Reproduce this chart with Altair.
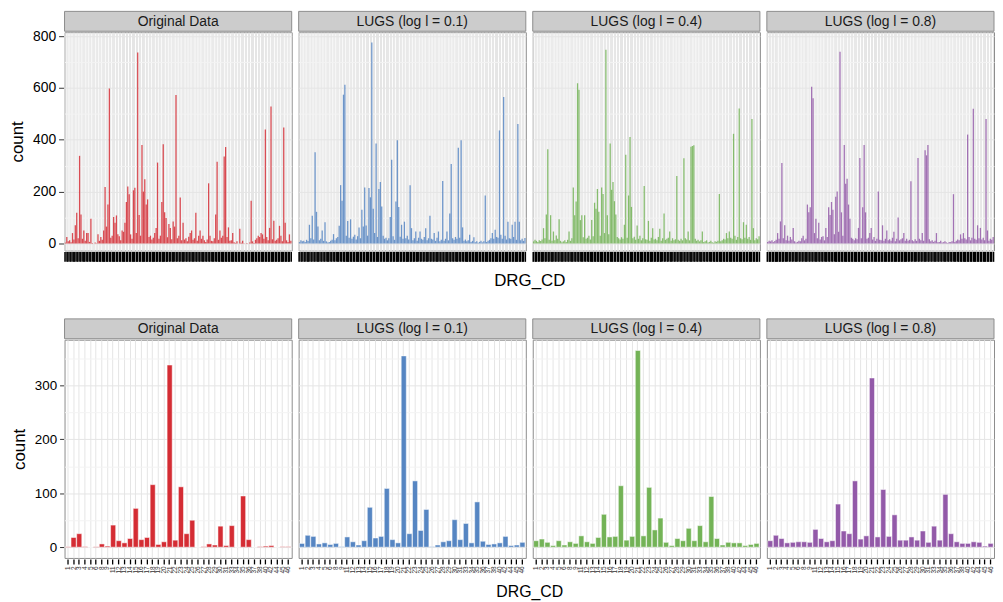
import altair as alt
import pandas as pd

PANELS = ["Original Data", "LUGS (log l = 0.1)", "LUGS (log l = 0.4)", "LUGS (log l = 0.8)"]
COLORS = ["#D3222A", "#4E80C0", "#6DB04F", "#8E52A5"]

# ---- top row: fine-grained DRG codes (160 categories per panel) ----
TOP_ORIG = [
    3, 25, 8, 12, 5, 40, 15, 70, 118, 20, 338, 112, 18, 50, 10, 40, 40, 6, 95, 2,
    0, 4, 1, 35, 10, 25, 14, 50, 218, 65, 150, 598, 22, 30, 102, 80, 108, 35, 28, 12,
    50, 45, 80, 160, 220, 190, 35, 18, 205, 215, 40, 737, 110, 30, 380, 200, 248, 150, 170, 25,
    30, 15, 22, 40, 60, 312, 18, 30, 160, 383, 120, 98, 24, 75, 60, 16, 85, 65, 573, 20,
    30, 177, 12, 80, 15, 20, 8, 26, 40, 50, 14, 20, 118, 10, 30, 50, 18, 30, 12, 6,
    15, 232, 30, 10, 8, 20, 112, 315, 14, 50, 22, 30, 335, 372, 25, 62, 10, 12, 40, 5,
    2, 8, 0, 57, 3, 10, 1, 0, 2, 0, 4, 165, 8, 2, 14, 20, 30, 25, 40, 35,
    18, 440, 25, 12, 60, 528, 16, 88, 10, 14, 20, 68, 30, 8, 447, 80, 12, 6, 35, 10,
]
TOP_L01 = [
    5, 12, 8, 10, 6, 14, 9, 72, 20, 107, 15, 352, 122, 65, 12, 18, 50, 10, 82, 8,
    4, 6, 10, 14, 36, 12, 20, 25, 68, 225, 165, 574, 612, 30, 87, 22, 93, 18, 26, 34,
    15, 28, 62, 20, 130, 65, 216, 69, 30, 214, 178, 775, 134, 40, 386, 25, 210, 237, 143, 30,
    18, 22, 12, 20, 102, 323, 28, 14, 162, 398, 141, 26, 72, 18, 84, 20, 30, 15, 225, 59,
    12, 20, 46, 10, 22, 46, 18, 14, 25, 59, 12, 20, 107, 18, 15, 40, 10, 22, 46, 8,
    14, 241, 10, 18, 46, 12, 116, 307, 20, 14, 25, 18, 369, 22, 398, 62, 10, 15, 8, 12,
    34, 6, 10, 24, 5, 8, 3, 6, 10, 4, 8, 185, 6, 10, 14, 20, 40, 18, 53, 25,
    22, 436, 34, 18, 565, 30, 15, 84, 20, 18, 72, 25, 84, 14, 461, 84, 12, 18, 10, 21,
]
TOP_L04 = [
    8, 14, 10, 6, 12, 9, 15, 59, 20, 112, 363, 14, 109, 10, 46, 12, 31, 18, 93, 10,
    5, 8, 12, 6, 14, 46, 10, 20, 216, 109, 162, 618, 593, 90, 109, 24, 109, 18, 22, 30,
    15, 90, 28, 157, 134, 210, 122, 30, 216, 191, 40, 747, 109, 35, 386, 207, 237, 163, 112, 25,
    20, 15, 24, 18, 72, 342, 22, 185, 411, 141, 20, 26, 14, 69, 18, 30, 12, 20, 222, 16,
    14, 87, 10, 22, 59, 15, 18, 12, 25, 57, 10, 20, 116, 14, 18, 22, 46, 10, 20, 12,
    16, 260, 14, 10, 18, 12, 329, 20, 15, 46, 12, 373, 376, 379, 18, 10, 14, 8, 12, 46,
    6, 8, 12, 4, 6, 10, 5, 3, 8, 6, 10, 191, 8, 12, 18, 15, 40, 20, 46, 22,
    18, 423, 30, 14, 25, 521, 20, 16, 82, 22, 72, 18, 25, 14, 480, 59, 12, 20, 16, 28,
]
TOP_L08 = [
    6, 10, 8, 12, 5, 9, 14, 40, 18, 85, 310, 20, 70, 12, 30, 10, 25, 15, 60, 8,
    4, 6, 10, 8, 20, 30, 12, 18, 150, 120, 140, 605, 560, 40, 95, 20, 80, 15, 25, 28,
    12, 60, 25, 140, 110, 160, 130, 35, 180, 200, 45, 740, 120, 30, 380, 230, 250, 150, 95, 22,
    18, 12, 20, 16, 60, 330, 20, 140, 380, 120, 18, 22, 40, 60, 15, 25, 10, 18, 200, 14,
    12, 70, 10, 18, 50, 12, 16, 10, 22, 45, 8, 18, 100, 12, 16, 20, 40, 10, 18, 10,
    14, 240, 12, 8, 16, 10, 330, 18, 12, 40, 10, 360, 340, 380, 16, 8, 12, 6, 10, 40,
    5, 6, 10, 4, 5, 8, 4, 2, 6, 5, 8, 190, 6, 10, 15, 12, 35, 18, 40, 20,
    15, 420, 25, 12, 22, 520, 18, 14, 70, 20, 60, 15, 22, 12, 480, 50, 10, 18, 14, 25,
]

# ---- bottom row: grouped DRG codes (40 categories per panel) ----
BOT_CODES = ["1", "2", "3", "4", "5", "6", "8", "9", "11", "12", "13", "14", "15", "16",
             "17", "18", "19", "20", "21", "22", "23", "24", "25", "26", "27", "28", "29",
             "30", "31", "33", "34", "35", "36", "37", "38", "40", "42", "44", "45", "46"]
BOT_ORIG = [1, 18, 25, 1, 0, 1, 6, 2, 41, 12, 8, 16, 72, 14, 18, 116, 5, 10, 338, 13,
            112, 25, 50, 0, 1, 6, 4, 39, 3, 40, 0, 95, 14, 0, 1, 2, 3, 0, 1, 1]
BOT_L01 = [7, 22, 20, 6, 8, 5, 7, 1, 19, 10, 4, 12, 74, 17, 20, 109, 14, 8, 355, 25,
           123, 31, 70, 1, 4, 10, 12, 51, 14, 44, 8, 84, 11, 5, 6, 8, 20, 3, 4, 9]
BOT_L04 = [12, 15, 9, 3, 12, 4, 10, 7, 21, 10, 7, 18, 61, 19, 20, 114, 13, 20, 365, 21,
           111, 32, 54, 9, 3, 16, 12, 35, 12, 40, 10, 94, 16, 4, 9, 8, 8, 3, 5, 7]
BOT_L08 = [12, 22, 16, 8, 9, 10, 10, 9, 33, 16, 10, 12, 80, 30, 25, 123, 15, 21, 314, 19,
           107, 20, 60, 13, 13, 19, 13, 30, 9, 39, 13, 98, 25, 10, 7, 7, 10, 9, 2, 7]

TOP_SERIES = [TOP_ORIG, TOP_L01, TOP_L04, TOP_L08]
BOT_SERIES = [BOT_ORIG, BOT_L01, BOT_L04, BOT_L08]
TOP_CODES = [str(i + 1) for i in range(max(len(s) for s in TOP_SERIES))]

TOP_Y_TICKS = [0, 100, 200, 300, 400, 500, 600, 700, 800]
BOT_Y_TICKS = [0, 50, 100, 150, 200, 250, 300, 350]


def frame(series_list, codes):
    rows = []
    for p, vals in zip(PANELS, series_list):
        for i, v in enumerate(vals):
            rows.append({"panel": p, "code": codes[i], "count": v, "first": i == 0})
    return pd.DataFrame(rows)


top_df = frame(TOP_SERIES, TOP_CODES)
bot_df = frame(BOT_SERIES, BOT_CODES)

FONT = "Liberation Sans"
BORDER = "#8C8C8C"
GRID = "#E5E5E5"
MINOR = "#F3F3F3"


def y_axis(ticks, major, font_size, tick_size, label_pad, title_pad):
    test = f"datum.value % {major} === 0"
    return alt.Axis(
        values=ticks,
        labelExpr=f"{test} ? datum.label : ''",
        grid=True,
        gridColor={"condition": {"test": test, "value": GRID}, "value": MINOR},
        tickColor={"condition": {"test": test, "value": "#333333"}, "value": "transparent"},
        tickSize=tick_size,
        labelPadding=label_pad,
        labelFontSize=font_size,
        labelColor="black",
        title="count",
        titleFontSize=17,
        titleFontWeight="normal",
        titleColor="black",
        titlePadding=title_pad,
    )


def panel_row(df, codes, w, h, ydom, yaxis, xaxis, bar_kwargs, head_pad, head_size):
    color = alt.Color("panel:N", scale=alt.Scale(domain=PANELS, range=COLORS), legend=None)
    x = alt.X("code:N", sort=codes,
              scale=alt.Scale(paddingInner=0.1, paddingOuter=0.15), axis=xaxis)
    y = alt.Y("count:Q", scale=alt.Scale(domain=ydom, nice=False, zero=False), axis=yaxis)
    bars = alt.Chart().mark_bar(**bar_kwargs).encode(x=x, y=y, y2=alt.datum(0), color=color)
    strip = (
        alt.Chart()
        .mark_rect(fill="#CCCCCC", stroke=BORDER, strokeWidth=1)
        .encode(x=alt.value(0), x2=alt.value(w), y=alt.value(-21), y2=alt.value(-1))
        .transform_filter("datum.first")
    )
    label = (
        alt.Chart()
        .mark_text(font=FONT, fontSize=14, color="#1A1A1A", baseline="middle", align="center")
        .encode(x=alt.value(w / 2), y=alt.value(-10.5), text="panel:N")
        .transform_filter("datum.first")
    )
    return (
        alt.layer(bars, strip, label, data=df)
        .properties(width=w, height=h)
        .facet(
            column=alt.Column(
                "panel:N", sort=PANELS,
                header=alt.Header(labels=False, title="DRG_CD", titleOrient="bottom",
                                  titleFont=FONT, titleFontSize=head_size,
                                  titleFontWeight="normal",
                                  titleColor="black", titlePadding=head_pad),
            ),
            spacing=5,
        )
    )


top = panel_row(
    top_df, TOP_CODES, 229, 220, [-27, 815],
    y_axis(TOP_Y_TICKS, 200, 14, 5, 3, 6),
    alt.Axis(title=None, labels=False, tickSize=10, tickWidth=1.6, tickColor="black",
             grid=True, gridColor=GRID, domain=False),
    dict(opacity=0.8),
    1, 17,
)

bottom = panel_row(
    bot_df, BOT_CODES, 229, 220, [-20, 385],
    y_axis(BOT_Y_TICKS, 100, 13.5, 4, 3, 6),
    alt.Axis(title=None, labelAngle=270, labelFontSize=6.5, labelColor="#333333",
             labelPadding=2, labelOverlap=False, labelBound=False, tickSize=5,
             tickWidth=1.3, tickColor="black", grid=True, gridColor=GRID, domain=False),
    dict(stroke="white", strokeWidth=0.5, opacity=0.95),
    0, 16,
)

chart = (
    alt.vconcat(top, bottom, spacing=29)
    .properties(padding={"top": 0, "left": 0, "right": 0, "bottom": 0})
    .configure_view(stroke=BORDER, strokeWidth=1)
    .configure_axis(labelFont=FONT, titleFont=FONT, domain=False)
)

chart.save("out.html", embed_options={"renderer": "svg", "actions": False})
